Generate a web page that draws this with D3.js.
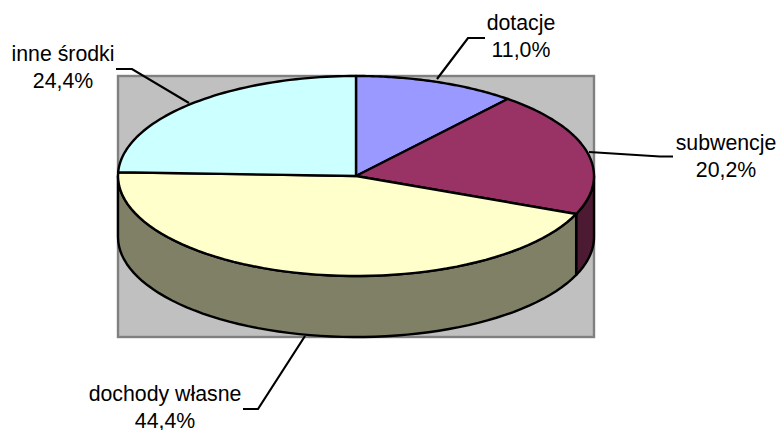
<!DOCTYPE html>
<html>
<head>
<meta charset="utf-8">
<script src="https://cdn.jsdelivr.net/npm/d3@7"></script>
<style>
  html, body { margin: 0; padding: 0; background: #fff; overflow: hidden; }
  text { font-family: "Liberation Sans", Arial, sans-serif; font-size: 21.3px; fill: #000; text-anchor: middle; }
</style>
</head>
<body>
<script>
// values, clockwise from 12 o'clock
const categories = ['dotacje', 'subwencje', 'dochody własne', 'inne środki'];
const shares = [11.0, 20.2, 44.4, 24.4];
const topColors = ['#9999ff', '#993366', '#ffffcc', '#ccffff'];
const sideColors = ['#4d4d80', '#4d1a33', '#808066', '#668080'];

// label centres and leader lines, one per category
const labelX = [521, 726, 165, 63];
const labelY = [30, 150, 401, 61];
const leaders = [
  [[437, 79], [468, 38], [485, 38]],
  [[589, 152], [660, 156.5], [673, 156.5]],
  [[305, 336], [258, 409], [243, 409]],
  [[189, 103], [132, 69], [116, 69]]
];

const width = 777, height = 430;
const cx = 356, cy = 176, rx = 238, ry = 100, depth = 61;

const svg = d3.select('body').append('svg')
  .attr('width', width)
  .attr('height', height)
  .style('display', 'block');

// grey plot area behind the pie
svg.append('rect')
  .attr('x', 118).attr('y', 76)
  .attr('width', 476).attr('height', 261)
  .attr('fill', '#c0c0c0')
  .attr('stroke', '#808080')
  .attr('stroke-width', 2.4);

const arcs = d3.pie().sort(null)(shares);

// squash the circle into the tilted ellipse
const px = a => cx + rx * Math.sin(a);
const py = a => cy - ry * Math.cos(a);
const samples = (a0, a1) => d3.range(0, 61).map(i => a0 + (a1 - a0) * i / 60);
const line = d3.line();

// side wall: only the front half of the rim (90 to 270 degrees) can be seen
arcs.forEach((d, i) => {
  const a0 = Math.max(d.startAngle, Math.PI / 2);
  const a1 = Math.min(d.endAngle, Math.PI * 1.5);
  if (a0 >= a1) return;
  const rim = samples(a0, a1);
  const pts = rim.map(a => [px(a), py(a)])
    .concat(rim.slice().reverse().map(a => [px(a), py(a) + depth]));
  svg.append('path')
    .attr('d', line(pts) + 'Z')
    .attr('fill', sideColors[i])
    .attr('stroke', '#000')
    .attr('stroke-width', 2.4)
    .attr('stroke-linejoin', 'round');
});

// top slices
arcs.forEach((d, i) => {
  const pts = [[cx, cy]].concat(samples(d.startAngle, d.endAngle).map(a => [px(a), py(a)]));
  svg.append('path')
    .attr('d', line(pts) + 'Z')
    .attr('fill', topColors[i])
    .attr('stroke', '#000')
    .attr('stroke-width', 2.4)
    .attr('stroke-linejoin', 'round');
});

// leader lines
svg.selectAll('.leader')
  .data(leaders)
  .enter().append('path')
  .attr('class', 'leader')
  .attr('d', d => line(d))
  .attr('fill', 'none')
  .attr('stroke', '#000')
  .attr('stroke-width', 2.2);

// labels, name above percentage
categories.forEach((c, i) => {
  const t = svg.append('text').attr('x', labelX[i]).attr('y', labelY[i]);
  t.append('tspan').attr('x', labelX[i]).text(c);
  t.append('tspan').attr('x', labelX[i]).attr('dy', 26.5).text(shares[i].toFixed(1).replace('.', ',') + '%');
});
</script>
</body>
</html>
